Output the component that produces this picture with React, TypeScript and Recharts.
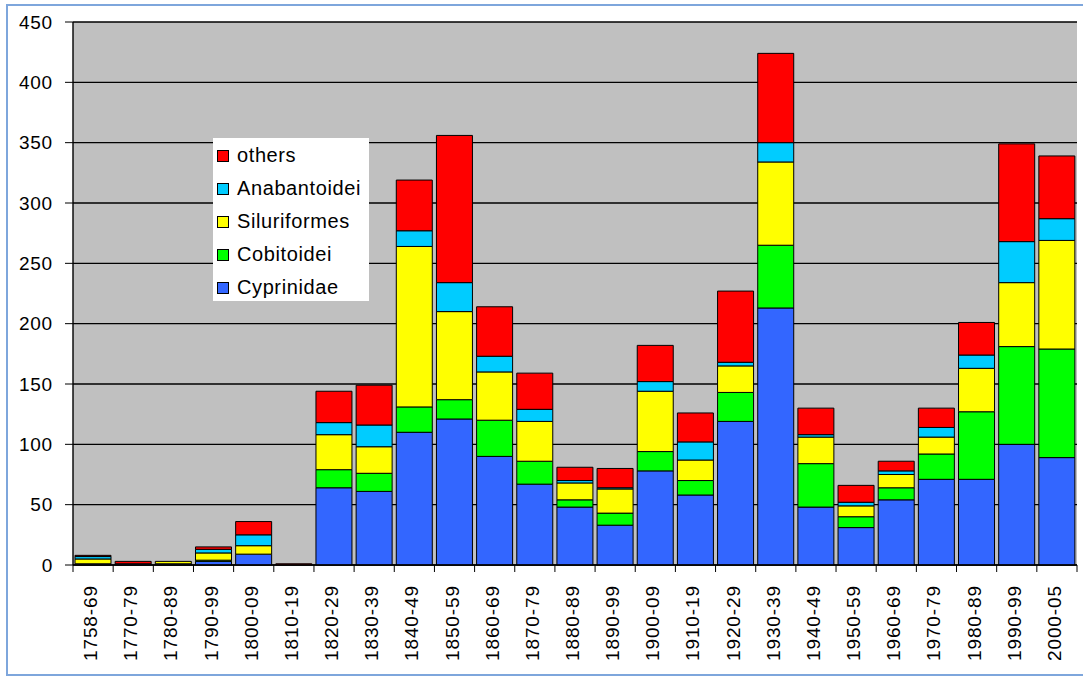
import React from "react";
import {
  BarChart,
  Bar,
  XAxis,
  YAxis,
  CartesianGrid,
  Legend,
} from "recharts";

const periods = [
  "1758-69", "1770-79", "1780-89", "1790-99", "1800-09", "1810-19",
  "1820-29", "1830-39", "1840-49", "1850-59", "1860-69", "1870-79",
  "1880-89", "1890-99", "1900-09", "1910-19", "1920-29", "1930-39",
  "1940-49", "1950-59", "1960-69", "1970-79", "1980-89", "1990-99",
  "2000-05",
];

const cyprinidae = [1, 1, 1, 3, 9, 0, 64, 61, 110, 121, 90, 67, 48, 33, 78, 58, 119, 213, 48, 31, 54, 71, 71, 100, 89];
const cobitoidei = [0, 0, 0, 1, 0, 0, 15, 15, 21, 16, 30, 19, 6, 10, 16, 12, 24, 52, 36, 9, 10, 21, 56, 81, 90];
const siluriformes = [4, 0, 2, 6, 7, 0, 29, 22, 133, 73, 40, 33, 14, 20, 50, 17, 22, 69, 22, 9, 11, 14, 36, 53, 90];
const anabantoidei = [2, 0, 0, 3, 9, 0, 10, 18, 13, 24, 13, 10, 2, 1, 8, 15, 3, 16, 2, 3, 3, 8, 11, 34, 18];
const others = [1, 2, 0, 2, 11, 1, 26, 33, 42, 122, 41, 30, 11, 16, 30, 24, 59, 74, 22, 14, 8, 16, 27, 81, 52];

const yTicks = [0, 50, 100, 150, 200, 250, 300, 350, 400, 450];

// stacked bottom to top
const series = [
  { key: "Cyprinidae", values: cyprinidae, color: "#3366ff" },
  { key: "Cobitoidei", values: cobitoidei, color: "#00ff00" },
  { key: "Siluriformes", values: siluriformes, color: "#ffff00" },
  { key: "Anabantoidei", values: anabantoidei, color: "#00ccff" },
  { key: "others", values: others, color: "#ff0000" },
];

const data = periods.map((period, i) => {
  const row: Record<string, string | number> = { period };
  series.forEach((s) => {
    row[s.key] = s.values[i];
  });
  return row;
});

const WIDTH = 1083;
const HEIGHT = 679;
const Y_AXIS_W = 73;
const MARGIN = { top: 22, right: 6, bottom: 0, left: 0 };
const FONT = "'Liberation Sans', Arial, sans-serif";

const bandWidth = (WIDTH - Y_AXIS_W - MARGIN.right) / periods.length;

function PeriodTick(props: any) {
  const { x, y, payload, index } = props;
  const half = bandWidth / 2;
  return (
    <g>
      <line x1={x - half} x2={x - half} y1={y} y2={y + 7} stroke="#000" />
      {index === periods.length - 1 && (
        <line x1={x + half} x2={x + half} y1={y} y2={y + 7} stroke="#000" />
      )}
      <text
        transform={`translate(${x + 4},${y + 20}) rotate(-90)`}
        textAnchor="end"
        fontSize={19}
        fontFamily={FONT}
        letterSpacing={0.9}
        fill="#000"
      >
        {payload.value}
      </text>
    </g>
  );
}

// legend lists the top of the stack first
function LegendBox() {
  const items = [...series].reverse();
  return (
    <div
      style={{
        background: "#fff",
        width: 156,
        height: 163,
        boxSizing: "border-box",
        paddingTop: 1,
        paddingLeft: 4,
        fontFamily: FONT,
        fontSize: 20,
        letterSpacing: 0.6,
        color: "#000",
      }}
    >
      {items.map((item) => (
        <div
          key={item.key}
          style={{ display: "flex", alignItems: "center", height: 33 }}
        >
          <span
            style={{
              width: 12,
              height: 12,
              boxSizing: "border-box",
              border: "1px solid #000",
              background: item.color,
              marginRight: 8,
              flexShrink: 0,
            }}
          />
          <span>{item.key}</span>
        </div>
      ))}
    </div>
  );
}

export default function App() {
  return (
    <div
      style={{
        position: "absolute",
        left: 0,
        top: 0,
        width: WIDTH,
        height: HEIGHT,
        overflow: "hidden",
        background: "#fff",
      }}
    >
      <div
        style={{
          position: "absolute",
          left: 6,
          top: 4,
          width: 1100,
          height: 672,
          boxSizing: "border-box",
          border: "2px solid #7ea6dc",
        }}
      />
      <div style={{ position: "absolute", left: 0, top: 0 }}>
        <BarChart
          width={WIDTH}
          height={HEIGHT}
          data={data}
          margin={MARGIN}
          barCategoryGap="5%"
        >
          <CartesianGrid
            vertical={false}
            stroke="#000"
            strokeWidth={1.4}
            fill="#c0c0c0"
            fillOpacity={1}
          />
          <XAxis
            dataKey="period"
            interval={0}
            height={HEIGHT - 565}
            tickLine={false}
            tickSize={0}
            tickMargin={0}
            axisLine={{ stroke: "#000", strokeWidth: 1.4 }}
            tick={<PeriodTick />}
          />
          <YAxis
            width={Y_AXIS_W}
            domain={[0, 450]}
            ticks={yTicks}
            interval={0}
            tickSize={8}
            tickMargin={12}
            axisLine={{ stroke: "#000", strokeWidth: 1.4 }}
            tickLine={{ stroke: "#000" }}
            tick={{ fill: "#000", fontSize: 19, fontFamily: FONT, letterSpacing: 0.8 }}
          />
          <YAxis
            yAxisId="edge"
            orientation="right"
            width={0}
            tick={false}
            tickLine={false}
            axisLine={{ stroke: "#8c8c8c", strokeWidth: 2 }}
          />
          <Legend
            layout="vertical"
            align="center"
            verticalAlign="middle"
            content={<LegendBox />}
            wrapperStyle={{ left: 213, top: 138, width: 156, height: 163 }}
          />
          {series.map((s) => (
            <Bar
              key={s.key}
              dataKey={s.key}
              name={s.key}
              stackId="fish"
              fill={s.color}
              stroke="#000"
              strokeWidth={1}
              isAnimationActive={false}
            />
          ))}
        </BarChart>
      </div>
    </div>
  );
}
